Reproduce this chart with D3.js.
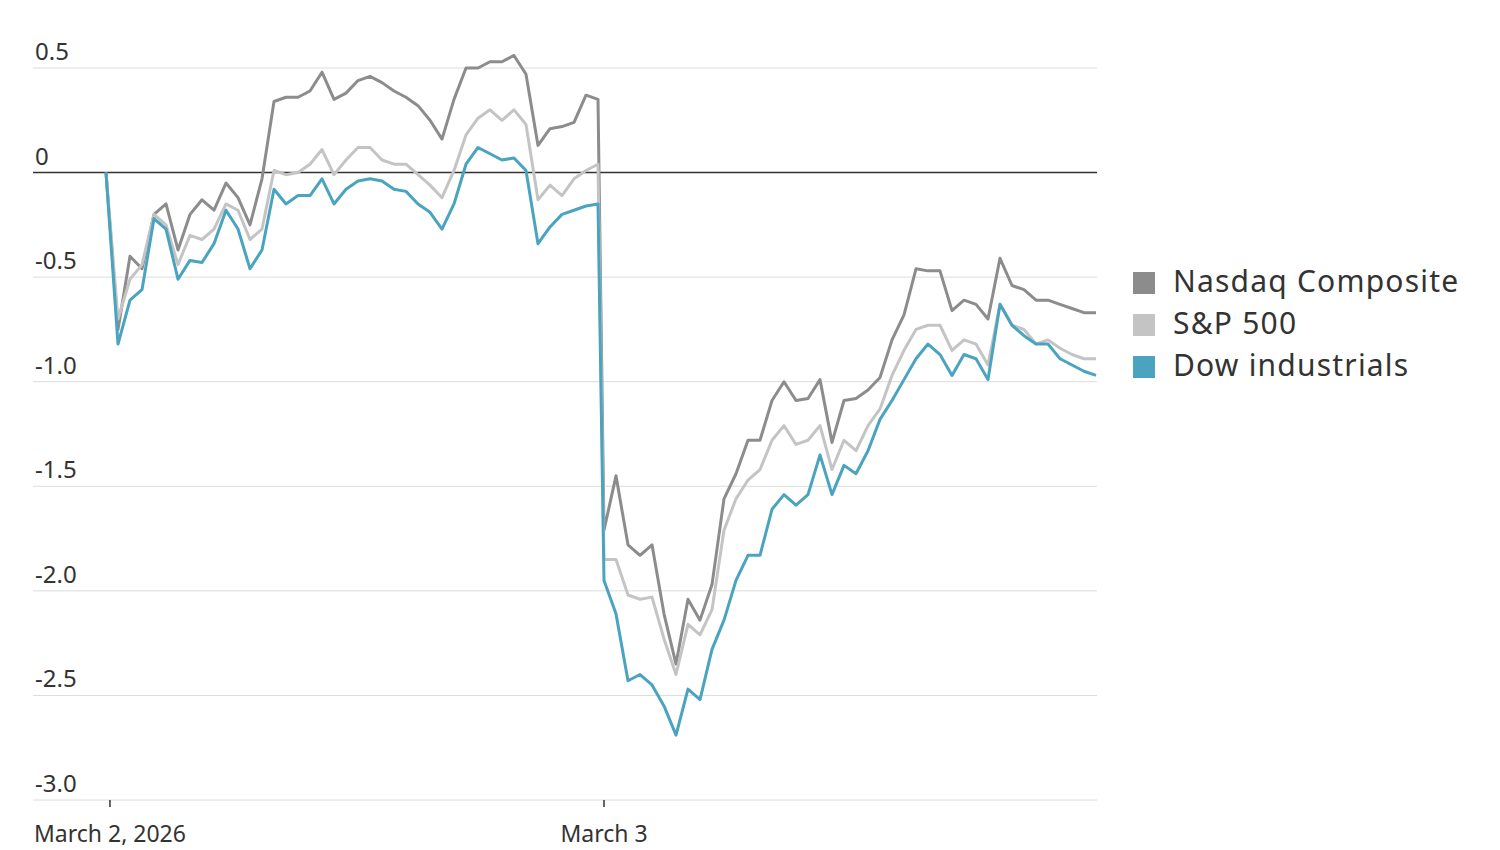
<!DOCTYPE html>
<html>
<head>
<meta charset="utf-8">
<script src="https://cdn.jsdelivr.net/npm/d3@7"></script>
<style>
  body { margin: 0; background: #fff; }
  text { font-family: "Noto Sans", "DejaVu Sans", sans-serif; }
</style>
</head>
<body>
<svg id="chart"></svg>
<script>
// values in percent change, sampled on an even grid; day 2 starts at index 41.5
const nasdaqDay1 = [0, -0.75, -0.40, -0.46, -0.20, -0.15, -0.37, -0.20, -0.13, -0.18, -0.05, -0.12,
  -0.25, -0.03, 0.34, 0.36, 0.36, 0.39, 0.48, 0.35, 0.38, 0.44, 0.46, 0.43, 0.39, 0.36, 0.32, 0.25,
  0.16, 0.35, 0.50, 0.50, 0.53, 0.53, 0.56, 0.47, 0.13, 0.21, 0.22, 0.24, 0.37, 0.35];
const nasdaqDay2 = [-1.71, -1.45, -1.78, -1.83, -1.78, -2.11, -2.35, -2.04, -2.14, -1.97, -1.56, -1.44,
  -1.28, -1.28, -1.09, -1.00, -1.09, -1.08, -0.99, -1.29, -1.09, -1.08, -1.04, -0.98, -0.80, -0.68,
  -0.46, -0.47, -0.47, -0.66, -0.61, -0.63, -0.70, -0.41, -0.54, -0.56, -0.61, -0.61, -0.63, -0.65, -0.67, -0.67];
const spDay1 = [0, -0.70, -0.51, -0.44, -0.20, -0.25, -0.44, -0.30, -0.32, -0.27, -0.15, -0.18,
  -0.32, -0.27, 0.01, -0.01, 0.00, 0.04, 0.11, -0.01, 0.06, 0.12, 0.12, 0.06, 0.04, 0.04, -0.01, -0.06,
  -0.12, 0.01, 0.18, 0.26, 0.30, 0.25, 0.30, 0.23, -0.13, -0.06, -0.11, -0.03, 0.01, 0.04];
const spDay2 = [-1.85, -1.85, -2.02, -2.04, -2.03, -2.23, -2.40, -2.16, -2.21, -2.09, -1.71, -1.56,
  -1.47, -1.42, -1.28, -1.21, -1.30, -1.28, -1.21, -1.42, -1.28, -1.33, -1.21, -1.13, -0.97, -0.85,
  -0.75, -0.73, -0.73, -0.85, -0.80, -0.82, -0.92, -0.63, -0.73, -0.75, -0.82, -0.80, -0.84, -0.87, -0.89, -0.89];
const dowDay1 = [0, -0.82, -0.61, -0.56, -0.22, -0.27, -0.51, -0.42, -0.43, -0.34, -0.18, -0.27,
  -0.46, -0.37, -0.08, -0.15, -0.11, -0.11, -0.03, -0.15, -0.08, -0.04, -0.03, -0.04, -0.08, -0.09,
  -0.15, -0.19, -0.27, -0.15, 0.04, 0.12, 0.09, 0.06, 0.07, 0.01, -0.34, -0.26, -0.20, -0.18, -0.16, -0.15];
const dowDay2 = [-1.95, -2.11, -2.43, -2.40, -2.45, -2.55, -2.69, -2.47, -2.52, -2.28, -2.14, -1.95,
  -1.83, -1.83, -1.61, -1.54, -1.59, -1.54, -1.35, -1.54, -1.40, -1.44, -1.33, -1.18, -1.09, -0.99,
  -0.89, -0.82, -0.87, -0.97, -0.87, -0.89, -0.99, -0.63, -0.73, -0.78, -0.82, -0.82, -0.89, -0.92, -0.95, -0.97];

const seriesNames = ["Nasdaq Composite", "S&P 500", "Dow industrials"];
const seriesColors = ["#8c8c8c", "#c4c4c4", "#4aa3bf"];
const yTicks = [0.5, 0, -0.5, -1.0, -1.5, -2.0, -2.5, -3.0];
const xTicks = [{ t: 0.33, label: "March 2, 2026" }, { t: 41.5, label: "March 3" }];
const day2Start = 41.5;

const width = 1500, height = 850;
const svg = d3.select("#chart").attr("width", width).attr("height", height);

const x = d3.scaleLinear().domain([0, 82.5]).range([106, 1096]);
const y = d3.scaleLinear().domain([-3, 0.5]).range([800, 68]);

const toPoints = (d1, d2) => d1.map((v, i) => ({ t: i, v }))
  .concat(d2.map((v, i) => ({ t: day2Start + i, v })));
const series = [
  toPoints(nasdaqDay1, nasdaqDay2),
  toPoints(spDay1, spDay2),
  toPoints(dowDay1, dowDay2)
];

// grid
svg.append("g").selectAll("line")
  .data(yTicks)
  .enter()
  .append("line")
  .attr("x1", 33).attr("x2", 1097)
  .attr("y1", d => y(d)).attr("y2", d => y(d))
  .attr("stroke", d => d === 0 ? "#333" : "#dcdcdc")
  .attr("stroke-width", d => d === 0 ? 1.5 : 1);

svg.append("g").selectAll("text")
  .data(yTicks)
  .enter()
  .append("text")
  .attr("x", 35)
  .attr("y", d => y(d) - 8)
  .style("font-size", "24px")
  .attr("fill", "#333")
  .text(d => d === 0 ? "0" : d.toFixed(1));

// x ticks
const xt = svg.append("g").selectAll("g")
  .data(xTicks)
  .enter()
  .append("g")
  .attr("transform", d => `translate(${x(d.t)},800)`);
xt.append("line").attr("y1", 0).attr("y2", 7).attr("stroke", "#333").attr("stroke-width", 1.5);
xt.append("text")
  .attr("y", 42)
  .attr("text-anchor", "middle")
  .style("font-size", "23px")
  .attr("fill", "#333")
  .text(d => d.label);

// lines
const line = d3.line().x(d => x(d.t)).y(d => y(d.v));
svg.append("g").selectAll("path")
  .data(series)
  .enter()
  .append("path")
  .attr("d", line)
  .attr("fill", "none")
  .attr("stroke", (d, i) => seriesColors[i])
  .attr("stroke-width", 3)
  .attr("stroke-linejoin", "round");

// legend
const lg = svg.append("g").selectAll("g")
  .data(seriesNames)
  .enter()
  .append("g")
  .attr("transform", (d, i) => `translate(1133,${272 + i * 42})`);
lg.append("rect").attr("y", 0).attr("width", 22).attr("height", 22)
  .attr("fill", (d, i) => seriesColors[i]);
lg.append("text")
  .attr("x", 40).attr("y", 20)
  .style("font-size", "30px")
  .style("letter-spacing", "1.2px")
  .attr("fill", "#333")
  .text(d => d);
</script>
</body>
</html>
